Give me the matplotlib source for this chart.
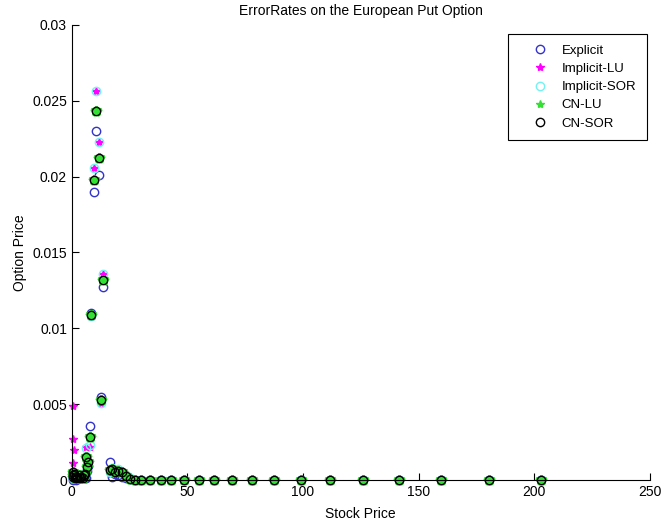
import matplotlib
matplotlib.use("Agg")
import matplotlib.pyplot as plt

plt.rcParams['font.family'] = ['Liberation Sans', 'DejaVu Sans']

# stock price grid (shared by all methods)
stockPrice = [0.3, 0.5, 0.7, 0.9, 1.3, 1.8, 2.3, 2.9, 3.5, 4.1, 4.7, 5.3, 5.8,
              6.1, 6.4, 6.9, 7.8, 8.2, 9.5, 10.5, 11.8, 12.8, 13.3,
              16.6, 17.4, 18.6, 20.0, 21.5, 23.4, 25.1,
              27.2, 30.1, 33.9, 38.4, 43.0, 48.4, 55.0, 61.7, 69.2, 78.0,
              87.6, 99.1, 111.6, 126.1, 141.4, 159.5, 180.3, 202.8]

tail = [0.0] * 18

explicitErr = [0.0001, 0.0, 0.0001, 0.0002, 0.0001, 0.0, 0.0002, 0.0001,
               0.0003, 0.0001, 0.0004, 0.0002, 0.0001,
               0.0001, 0.0006, 0.0009, 0.00356, 0.0110, 0.0190, 0.0230,
               0.0201, 0.00549, 0.0127,
               0.00118, 0.0002, 0.0004, 0.0003, 0.0002, 0.0001, 0.00005] + tail

implicitLUErr = [0.0011, 0.0049, 0.0027, 0.0020, 0.0002, 0.0001, 0.0002,
                 0.0001, 0.0002, 0.0003, 0.0002, 0.0004, 0.0003,
                 0.0022, 0.0009, 0.0011, 0.0022, 0.0108, 0.02055, 0.02565,
                 0.0223, 0.0051, 0.01358,
                 0.0004, 0.0008, 0.0005, 0.0006, 0.0005, 0.0003, 0.0001] + tail

implicitSORErr = [0.0002, 0.0001, 0.0002, 0.0001, 0.0001, 0.0002, 0.0001,
                  0.0002, 0.0001, 0.0003, 0.0002, 0.0004, 0.0003,
                  0.0021, 0.0010, 0.0011, 0.0023, 0.0108, 0.02055, 0.02565,
                  0.0223, 0.0051, 0.01358,
                  0.0005, 0.0008, 0.0006, 0.0007, 0.0005, 0.0003, 0.0001] + tail

cnLUErr = [0.0005, 0.0003, 0.0002, 0.0004, 0.0001, 0.0002, 0.0001, 0.0003,
           0.0001, 0.0002, 0.0001, 0.0003, 0.0004,
           0.00154, 0.00088, 0.0012, 0.00286, 0.0109, 0.0198, 0.0243,
           0.02125, 0.00527, 0.0132,
           0.00066, 0.0007, 0.00055, 0.00061, 0.00052, 0.00026, 0.00007] + tail

cnSORErr = list(cnLUErr)

fig = plt.figure(figsize=(6.65, 5.25), dpi=100)
ax = fig.add_axes([0.108, 0.0857, 0.869, 0.8667])

ax.plot(stockPrice, explicitErr, 'o', color=(0.2, 0.2, 0.8), mfc='none',
        ms=6, mew=1.0, label='Explicit', clip_on=False)
ax.plot(stockPrice, implicitLUErr, '*', color=(1.0, 0.0, 1.0),
        ms=6, mew=1.0, label='Implicit-LU', clip_on=False)
ax.plot(stockPrice, implicitSORErr, 'o', color=(0.45, 0.95, 0.95), mfc='none',
        ms=6, mew=1.0, label='Implicit-SOR', clip_on=False)
ax.plot(stockPrice, cnLUErr, '*', color=(0.2, 0.88, 0.2),
        ms=7, mew=2.2, label='CN-LU', clip_on=False)
ax.plot(stockPrice, cnSORErr, 'o', color='black', mfc='none',
        ms=6, mew=1.0, label='CN-SOR', clip_on=False)

ax.set_xlim(0, 250)
ax.set_ylim(0, 0.03)
ax.set_xticks([0, 50, 100, 150, 200, 250])
ax.set_xticklabels(['0', '50', '100', '150', '200', '250'])
ax.set_yticks([0, 0.005, 0.01, 0.015, 0.02, 0.025, 0.03])
ax.set_yticklabels(['0', '0.005', '0.01', '0.015', '0.02', '0.025', '0.03'])
ax.tick_params(direction='in', length=5, labelsize=10, width=0.8)
ax.spines['top'].set_visible(False)
ax.spines['right'].set_visible(False)

ax.set_title('ErrorRates on the European Put Option', fontsize=10, pad=7)
ax.set_xlabel('Stock Price', fontsize=10, labelpad=6)
ax.set_ylabel('Option Price', fontsize=10, labelpad=4)

leg = ax.legend(loc='upper right', bbox_to_anchor=(0.995, 0.98),
                borderaxespad=0, fontsize=9.5,
                fancybox=False, edgecolor='black', framealpha=1,
                labelspacing=0.45, handlelength=3.3, handletextpad=0.0,
                borderpad=0.8)
leg.get_frame().set_linewidth(0.8)
# smaller star for the CN-LU entry, as in the original legend
leg.legend_handles[3].set_markeredgewidth(1.0)
leg.legend_handles[3].set_markersize(6)

fig.savefig('out.png', dpi=100)
